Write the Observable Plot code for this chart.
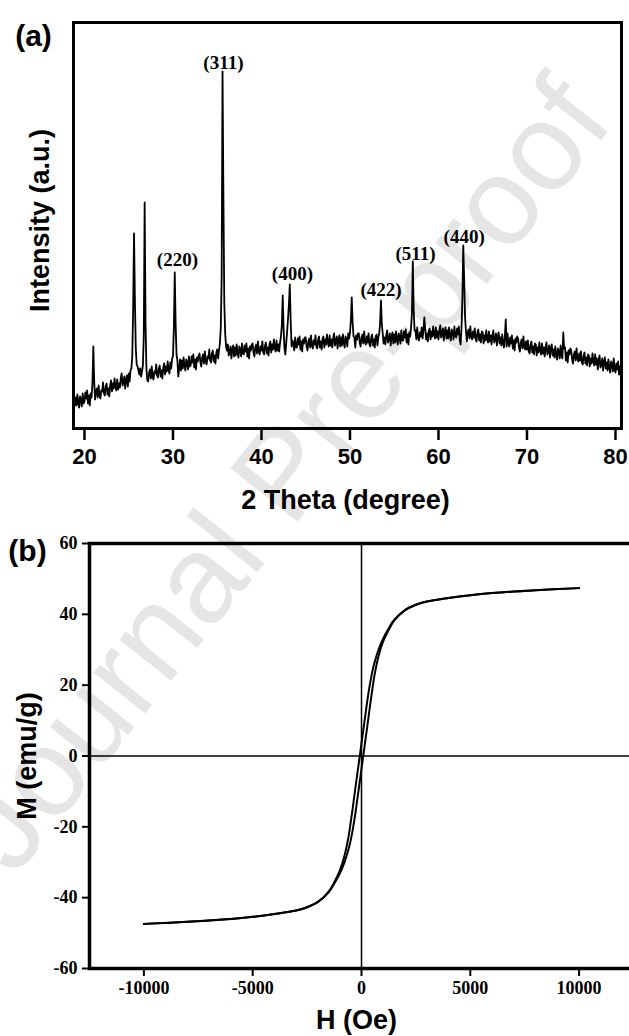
<!DOCTYPE html>
<html><head><meta charset="utf-8">
<script src="https://cdn.jsdelivr.net/npm/d3@7"></script>
<script src="https://cdn.jsdelivr.net/npm/@observablehq/plot@0.6"></script>
<style>
html,body{margin:0;padding:0;background:#fff;overflow:hidden;width:629px;height:1036px}
#page{position:relative;width:629px;height:1036px;overflow:hidden}
#wm{position:absolute;left:0;top:0;pointer-events:none}
#a svg,#b svg{display:block;max-width:none !important}
</style></head>
<body><div id="page"><div id="a"></div><div id="b"></div>
<svg id="wm" width="629" height="1036"><text x="315" y="500" transform="rotate(-51.5 315 500)" text-anchor="middle" font-family="Liberation Sans, Arial, sans-serif" font-size="125" fill="#000" fill-opacity="0.1">Journal Pre-proof</text></svg>
</div>
<script>
// ---------- Panel (a): XRD pattern ----------
const twoThetaStart = 18.8;   // degrees
const twoThetaStep = 0.1;     // degrees
const xrdIntensity = [
  31, 23,                                   // 18.8-18.9
  31, 23, 34, 26, 21, 32, 29, 22, 35, 25,   // 19
  27, 36, 30, 38, 25, 33, 23, 35, 31, 45,   // 20
  82, 47, 29, 37, 40, 31, 43, 33, 30, 38,   // 21
  37, 46, 35, 33, 42, 45, 34, 40, 32, 43,   // 22
  48, 37, 45, 40, 50, 42, 38, 49, 39, 45,   // 23
  41, 50, 55, 43, 46, 52, 40, 49, 53, 42,   // 24
  55, 47, 58, 60, 72, 120, 195, 128, 80, 64,// 25
  62, 58, 54, 60, 52, 57, 63, 92, 226, 105, // 26
  60, 48, 47, 56, 59, 50, 62, 52, 49, 57,   // 27
  55, 64, 53, 51, 60, 63, 52, 58, 50, 61,   // 28
  65, 54, 62, 57, 67, 59, 55, 66, 60, 70,   // 29
  72, 100, 156, 105, 74, 68, 52, 60, 69, 58,// 30
  68, 60, 71, 63, 58, 69, 66, 59, 72, 62,   // 31
  63, 72, 66, 74, 61, 69, 59, 71, 67, 73,   // 32
  75, 66, 62, 71, 74, 65, 77, 67, 64, 72,   // 33
  70, 79, 68, 66, 75, 78, 67, 73, 65, 76,   // 34
  79, 70, 78, 85, 100, 150, 357, 230, 125, 95, // 35
  82, 78, 84, 73, 76, 82, 70, 79, 83, 72,   // 36
  81, 73, 84, 76, 71, 82, 79, 72, 85, 75,   // 37
  74, 83, 77, 85, 72, 80, 70, 82, 78, 84,   // 38
  85, 76, 72, 81, 84, 75, 87, 77, 74, 82,   // 39
  78, 87, 76, 74, 83, 86, 75, 81, 73, 84,   // 40
  87, 76, 84, 79, 89, 81, 77, 88, 78, 84,   // 41
  77, 86, 92, 103, 133, 100, 80, 74, 86, 97,// 42
  110, 124, 144, 108, 82, 88, 85, 78, 91, 81, // 43
  81, 90, 84, 92, 79, 87, 77, 89, 85, 91,   // 44
  91, 82, 78, 87, 90, 81, 93, 83, 80, 88,   // 45
  84, 93, 82, 80, 89, 92, 81, 87, 79, 90,   // 46
  92, 81, 89, 84, 94, 86, 82, 93, 83, 89,   // 47
  81, 90, 95, 83, 86, 92, 80, 89, 93, 82,   // 48
  91, 83, 94, 86, 81, 92, 89, 82, 95, 90,   // 49
  96, 108, 131, 106, 92, 91, 81, 93, 89, 95,// 50
  95, 86, 82, 91, 94, 85, 97, 87, 84, 92,   // 51
  86, 95, 84, 82, 91, 94, 83, 89, 81, 92,   // 52
  94, 83, 91, 95, 105, 128, 104, 95, 85, 91,// 53
  84, 93, 98, 86, 89, 95, 83, 92, 96, 85,   // 54
  94, 86, 97, 89, 84, 95, 92, 85, 98, 88,   // 55
  88, 97, 91, 99, 86, 94, 84, 96, 92, 101,  // 56
  115, 167, 118, 98, 98, 89, 101, 91, 88, 96, // 57
  92, 101, 90, 98, 111, 100, 89, 95, 87, 98,// 58
  100, 89, 97, 92, 102, 94, 90, 101, 91, 97,// 59
  89, 98, 103, 91, 94, 100, 88, 97, 101, 90,// 60
  98, 90, 101, 93, 88, 99, 96, 89, 102, 92, // 61
  91, 100, 94, 102, 89, 84, 100, 130, 183, 150, // 62
  112, 98, 87, 96, 99, 90, 102, 92, 89, 97, // 63
  91, 100, 89, 87, 96, 99, 88, 94, 86, 97,  // 64
  96, 85, 93, 88, 98, 90, 86, 97, 87, 93,   // 65
  84, 93, 98, 86, 89, 95, 83, 92, 96, 85,   // 66
  91, 83, 94, 86, 81, 92, 109, 82, 95, 85,  // 67
  82, 91, 85, 93, 80, 88, 78, 90, 86, 92,   // 68
  90, 81, 77, 86, 89, 80, 92, 82, 79, 87,   // 69
  79, 88, 77, 75, 84, 87, 76, 82, 74, 85,   // 70
  84, 73, 81, 76, 86, 78, 74, 85, 75, 81,   // 71
  72, 81, 86, 74, 77, 83, 71, 80, 84, 73,   // 72
  79, 71, 82, 74, 69, 80, 77, 70, 83, 73,   // 73
  70, 96, 80, 81, 68, 76, 66, 78, 74, 80,   // 74
  78, 69, 65, 74, 77, 68, 80, 70, 67, 75,   // 75
  68, 77, 66, 64, 73, 76, 65, 71, 63, 74,   // 76
  73, 62, 70, 65, 75, 67, 63, 74, 64, 70,   // 77
  59, 68, 73, 61, 64, 70, 58, 67, 71, 60,   // 78
  66, 58, 69, 61, 56, 67, 64, 57, 70, 60,   // 79
  56, 65, 59, 67, 54, 62, 52, 64            // 80.0-80.7
];
const xTicksA = [20, 30, 40, 50, 60, 70, 80];
const hklLabels = ["(220)", "(311)", "(400)", "(422)", "(511)", "(440)"];
const hklTheta = [30.5, 35.7, 43.5, 53.5, 57.4, 62.9];
const hklIntensity = [169, 366, 155, 139, 175, 192];

// ---------- Panel (b): M-H hysteresis loop ----------
const fieldOe = [-10000, -8000, -6000, -5000, -4000, -3000, -2500, -2000, -1500, -1200, -1000, -800, -600, -500, -400, -300, -200, -100, 0,
  100, 200, 300, 400, 500, 600, 800, 1000, 1200, 1500, 2000, 2500, 3000, 4000, 5000, 6000, 8000, 10000];
const mDescending = [-47.4, -46.8, -46.0, -45.4, -44.6, -43.6, -42.7, -41.2, -38.2, -35.0, -32.4, -28.6, -22.9, -18.9, -14.6, -9.9, -5.4, -0.9, 3.6,
  8.1, 12.6, 17.0, 20.7, 23.9, 26.4, 30.3, 33.2, 35.5, 38.4, 41.2, 42.7, 43.6, 44.6, 45.4, 46.0, 46.8, 47.4];
const mAscending = [-47.4, -46.8, -46.0, -45.4, -44.6, -43.6, -42.7, -41.2, -38.4, -35.5, -33.2, -30.3, -26.4, -23.9, -20.7, -17.0, -12.6, -8.1, -3.6,
  0.9, 5.4, 9.9, 14.6, 18.9, 22.9, 28.6, 32.4, 35.0, 38.2, 41.2, 42.7, 43.6, 44.6, 45.4, 46.0, 46.8, 47.4];
const hTicks = [-10000, -5000, 0, 5000, 10000];
const mTicks = [-60, -40, -20, 0, 20, 40, 60];

const sans = "Liberation Sans, Arial, Helvetica, sans-serif";
const serif = "Liberation Serif, Times New Roman, serif";
const centered = {textAnchor: "middle", lineAnchor: "middle"};

const xrd = xrdIntensity.map((I, i) => ({theta: twoThetaStart + i * twoThetaStep, I}));

const chartA = Plot.plot({
  width: 629, height: 515,
  marginLeft: 73, marginRight: 8, marginTop: 22, marginBottom: 87,
  x: {domain: [18.76, 80.68], label: null},
  y: {domain: [0, 406], axis: null, label: null},
  style: {fontFamily: sans, background: "white", color: "black"},
  marks: [
    Plot.line(xrd, {x: "theta", y: "I", stroke: "black", strokeWidth: 1.8}),
    Plot.text(hklLabels, {x: (d, i) => hklTheta[i], y: (d, i) => hklIntensity[i], text: d => d, ...centered,
      fontFamily: serif, fontWeight: "bold", fontSize: 19, fill: "black"}),
    Plot.frame({stroke: "black", strokeWidth: 3}),
    Plot.axisX(xTicksA, {tickSize: 12, tickPadding: 8, fontSize: 22, fontWeight: "bold", fontFamily: sans,
      strokeWidth: 2.5, tickFormat: d => String(d), label: null}),
    Plot.text(["2 Theta (degree)"], {frameAnchor: "bottom", text: d => d, ...centered, dx: -2, dy: 72, fontSize: 27, fontWeight: "bold", fontFamily: sans}),
    Plot.text(["Intensity (a.u.)"], {frameAnchor: "left", text: d => d, ...centered, dx: -33, dy: -5, rotate: -90, fontSize: 27, fontWeight: "bold", fontFamily: sans}),
    Plot.text(["(a)"], {frameAnchor: "top-left", text: d => d, ...centered, dx: -40, dy: 14, fontSize: 30, fontWeight: "bold", fontFamily: sans})
  ]
});
document.getElementById("a").appendChild(chartA);

const loop = [
  ...fieldOe.map((H, i) => ({H, M: mDescending[i], branch: "descending"})),
  ...fieldOe.map((H, i) => ({H, M: mAscending[i], branch: "ascending"}))
];

const chartB = Plot.plot({
  width: 636, height: 521,
  marginLeft: 89, marginRight: 3, marginTop: 28, marginBottom: 68,
  x: {domain: [-12500, 12500], label: null},
  y: {domain: [-60, 60], label: null},
  style: {fontFamily: serif, background: "white", color: "black"},
  marks: [
    Plot.ruleX([0], {stroke: "black", strokeWidth: 1.5}),
    Plot.ruleY([0], {stroke: "black", strokeWidth: 1.5}),
    Plot.line(loop, {x: "H", y: "M", z: "branch", curve: "catmull-rom", stroke: "black", strokeWidth: 2}),
    Plot.frame({stroke: "black", strokeWidth: 3.5}),
    Plot.axisX(hTicks, {tickSize: 8, tickPadding: 5, fontSize: 18, fontWeight: "bold", fontFamily: serif,
      strokeWidth: 2, tickFormat: d => String(d), label: null}),
    Plot.axisY(mTicks, {tickSize: 7, tickPadding: 5, fontSize: 18, fontWeight: "bold", fontFamily: serif,
      strokeWidth: 2, tickFormat: d => String(d), label: null}),
    Plot.text(["H (Oe)"], {frameAnchor: "bottom", text: d => d, ...centered, dx: -5, dy: 52, fontSize: 27, fontWeight: "bold", fontFamily: sans}),
    Plot.text(["M (emu/g)"], {frameAnchor: "left", text: d => d, ...centered, dx: -62, rotate: -90, fontSize: 27, fontWeight: "bold", fontFamily: sans}),
    Plot.text(["(b)"], {frameAnchor: "top-left", text: d => d, ...centered, dx: -62, dy: 8, fontSize: 30, fontWeight: "bold", fontFamily: sans})
  ]
});
document.getElementById("b").appendChild(chartB);
</script>
</body></html>
